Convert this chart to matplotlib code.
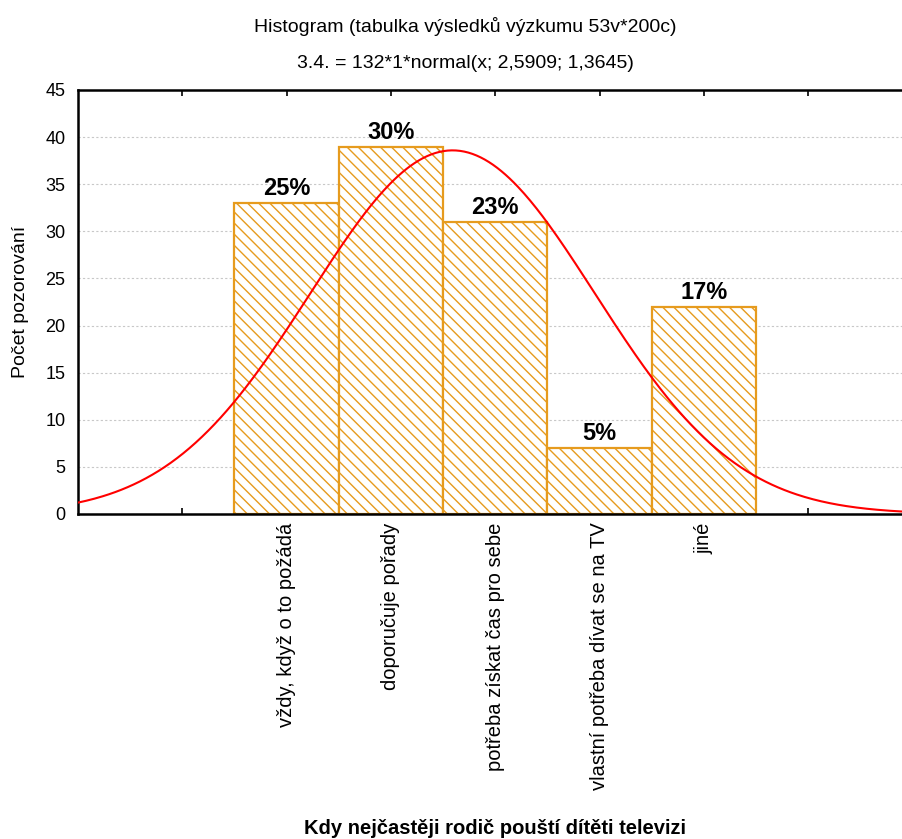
import numpy as np
import matplotlib
matplotlib.use("Agg")
import matplotlib.pyplot as plt

plt.rcParams['font.family'] = ['Liberation Sans', 'DejaVu Sans']
plt.rcParams['hatch.linewidth'] = 1.0

# data
categories = ["vždy, když o to požádá", "doporučuje pořady", "potřeba získat čas pro sebe",
              "vlastní potřeba dívat se na TV", "jiné"]
positions = [1, 2, 3, 4, 5]
counts = [33, 39, 31, 7, 22]
# fitted normal from the subtitle: 132*1*normal(x; 2,5909; 1,3645)
fit_n = 132
fit_mean = 2.5909
fit_sd = 1.3645

total = sum(counts)
orange = "#E69B1E"
hatch = chr(92) * 3   # backslashes -> dense diagonal hatch

fig = plt.figure(figsize=(9.02, 8.39), dpi=100)
ax = fig.add_axes([78/902, 1-514/839, 824/902, 424/839])

ax.bar(positions, counts, width=1.0, color="white", edgecolor=orange,
       hatch=hatch, linewidth=1.6, zorder=2)

for p, c in zip(positions, counts):
    ax.text(p, c + 0.3, f"{round(100*c/total)}%", ha="center", va="bottom",
            fontsize=17, fontweight="bold", zorder=4)

xs = np.linspace(-1, 6.9, 400)
ys = fit_n * np.exp(-0.5*((xs - fit_mean)/fit_sd)**2) / (fit_sd*np.sqrt(2*np.pi))
ax.plot(xs, ys, color="red", linewidth=1.5, zorder=3)

ax.set_xlim(-1, 6.9)
ax.set_ylim(0, 45)
ax.set_yticks(range(0, 46, 5))
ax.set_xticks(range(0, 7))
ax.set_xticklabels([""] + categories + [""], rotation=90, fontsize=14.5)
ax.tick_params(axis="x", direction="in", length=4, width=1.2, top=True, pad=6)
ax.tick_params(axis="y", length=0, labelsize=13, pad=9)
ax.yaxis.grid(True, linestyle=(0, (2, 2)), color="#c8c8c8", linewidth=0.8)
ax.set_axisbelow(True)

ax.spines["right"].set_visible(False)
for s in ["left", "bottom", "top"]:
    ax.spines[s].set_linewidth(1.8)

ax.set_ylabel("Počet pozorování", fontsize=14, labelpad=12)

fig.text(465/902, 1-27/839, "Histogram (tabulka výsledků výzkumu 53v*200c)",
         ha="center", va="center", fontsize=14)
fig.text(465/902, 1-64/839, "3.4. = 132*1*normal(x; 2,5909; 1,3645)",
         ha="center", va="center", fontsize=14)
fig.text(495/902, 1-828/839, "Kdy nejčastěji rodič pouští dítěti televizi",
         ha="center", va="center", fontsize=14.5, fontweight="bold")

fig.savefig("out.png", dpi=100)
